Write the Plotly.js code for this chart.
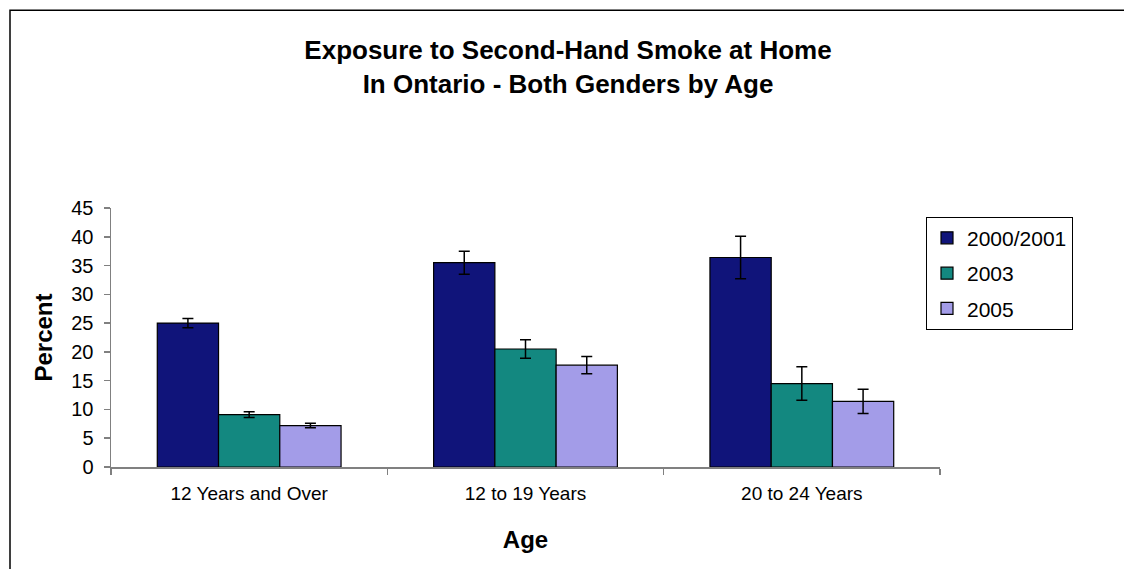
<!DOCTYPE html>
<html>
<head>
<meta charset="utf-8">
<script src="https://cdn.plot.ly/plotly-3.0.1.min.js"></script>
<style>html,body{margin:0;padding:0;background:#fff;}#chart{width:1124px;height:569px;}</style>
</head>
<body>
<div id="chart"></div>
<script>
const categories = ["12 Years and Over", "12 to 19 Years", "20 to 24 Years"];
const seriesNames = ["2000/2001", "2003", "2005"];
const values2000 = [25.0, 35.5, 36.4];
const values2003 = [9.1, 20.5, 14.5];
const values2005 = [7.2, 17.7, 11.4];
const errors2000 = [0.8, 2.0, 3.7];
const errors2003 = [0.5, 1.6, 2.9];
const errors2005 = [0.4, 1.5, 2.1];
const yTicks = [0, 5, 10, 15, 20, 25, 30, 35, 40, 45];

const colors = ["#10147A", "#138880", "#A39CE8"];
const allValues = [values2000, values2003, values2005];
const allErrors = [errors2000, errors2003, errors2005];

const traces = seriesNames.map((name, i) => ({
  type: "bar",
  name: name,
  x: categories,
  y: allValues[i],
  legendgroup: "g" + i,
  marker: {color: colors[i], line: {color: "#000000", width: 1.2}},
  error_y: {type: "data", array: allErrors[i], visible: true, color: "#000000", thickness: 1.5, width: 5.5},
  hoverinfo: "skip"
}));

const W = 1124, H = 569, L = 111, R = 940, T = 208.3, B = 466.7;
const pw = R - L, ph = B - T;
const FONT = "Liberation Sans, Arial, sans-serif";

const layout = {
  width: W, height: H,
  margin: {l: L, r: W - R, t: T, b: H - B, pad: 0},
  paper_bgcolor: "#ffffff",
  plot_bgcolor: "#ffffff",
  font: {family: FONT, color: "#000000"},
  title: {
    text: "<b>Exposure to Second-Hand Smoke at Home</b><br><b>In Ontario - Both Genders by Age</b>",
    font: {size: 26, family: FONT, color: "#000000"},
    x: 568 / W, xanchor: "center", xref: "container",
    y: 1 - 59 / H, yanchor: "middle", yref: "container"
  },
  barmode: "group",
  bargap: 0.335,
  bargroupgap: 0,
  showlegend: true,
  legend: {
    x: (926 - L) / pw, y: (B - 217) / ph, xanchor: "left", yanchor: "top",
    bordercolor: "#000000", borderwidth: 1, bgcolor: "#ffffff",
    font: {size: 21, color: "#000000"},
    tracegroupgap: 5,
    itemwidth: 30
  },
  xaxis: {
    type: "category",
    showline: true, linecolor: "#808080", linewidth: 1.5,
    ticks: "outside", tickson: "boundaries", ticklen: 6, tickcolor: "#808080", tickwidth: 1.5,
    tickfont: {size: 19, color: "#000000"},
    ticklabelstandoff: 9,
    showgrid: false, zeroline: false,
    title: {text: "<b>Age</b>", font: {size: 24, color: "#000000"}, standoff: 28}
  },
  yaxis: {
    range: [0, 45], tickvals: yTicks, ticktext: yTicks.map(String),
    showline: true, linecolor: "#808080", linewidth: 1.5,
    ticks: "outside", ticklen: 6, tickcolor: "#808080", tickwidth: 1.5,
    tickfont: {size: 20, color: "#000000"},
    ticklabelstandoff: 6,
    showgrid: false, zeroline: false,
    title: {text: "<b>Percent</b>", font: {size: 24, color: "#000000"}, standoff: 12}
  },
  shapes: [{
    type: "rect", xref: "paper", yref: "paper",
    x0: (10 - L) / pw, x1: (W + 20 - L) / pw,
    y0: (B - (H + 20)) / ph, y1: (B - 11) / ph,
    line: {color: "#000000", width: 1.5}, fillcolor: "rgba(0,0,0,0)", layer: "below"
  }]
};

Plotly.newPlot("chart", traces, layout, {staticPlot: true, displayModeBar: false});
</script>
</body>
</html>
